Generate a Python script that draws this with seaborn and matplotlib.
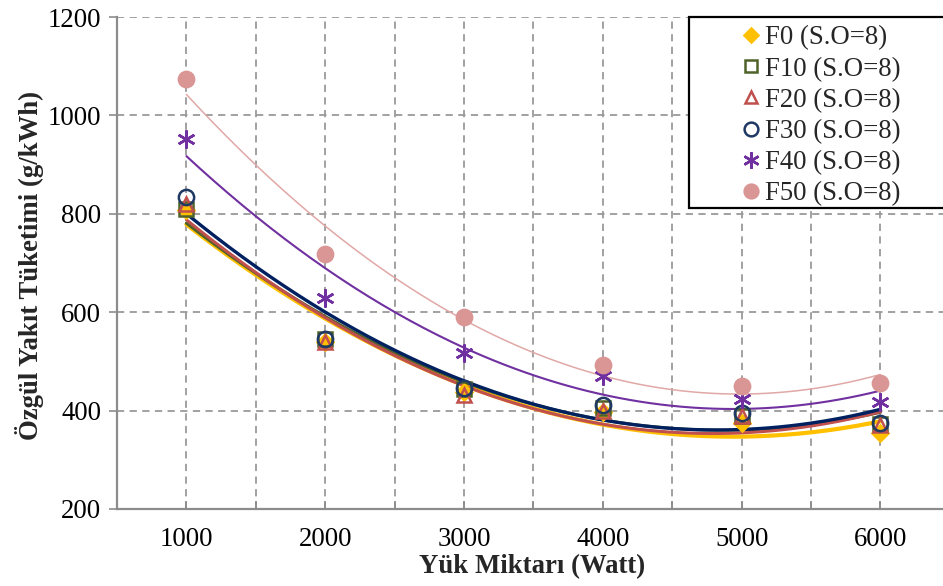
import numpy as np
import pandas as pd
import matplotlib
matplotlib.use("Agg")
import matplotlib.pyplot as plt
from matplotlib.patches import Rectangle
from matplotlib.lines import Line2D
import seaborn as sns

# Load steps (W) and specific fuel consumption (g/kWh) for each blend
loads = [1000, 2000, 3000, 4000, 5000, 6000]
f0 = [808, 540, 438, 398, 375, 355]
f10 = [810, 546, 444, 406, 390, 373]
f20 = [820, 540, 432, 400, 390, 370]
f30 = [835, 545, 445, 411, 395, 375]
f40 = [953, 629, 517, 470, 424, 418]
f50 = [1073, 718, 590, 493, 449, 457]
series_names = ["F0 (S.O=8)", "F10 (S.O=8)", "F20 (S.O=8)",
                "F30 (S.O=8)", "F40 (S.O=8)", "F50 (S.O=8)"]
x_ticks = [500, 1000, 1500, 2000, 2500, 3000, 3500, 4000, 4500, 5000, 5500, 6000]
y_ticks = [200, 400, 600, 800, 1000, 1200]

sns.set_theme(style="white")
plt.rcParams["font.family"] = ["Liberation Serif", "DejaVu Serif"]

FS = 19.3

styles = [
    # marker, marker face, marker edge, marker size, trend colour, trend width
    dict(marker="D", face="#FFC000", edge="#FFC000", ms=8, lc="#FFC000", lw=3.0),
    dict(marker="s", face="none", edge="#4F6228", ms=10, lc="#4F6228", lw=2.2),
    dict(marker="^", face="none", edge="#C0504D", ms=10, lc="#C0504D", lw=2.2),
    dict(marker="o", face="none", edge="#1F3864", ms=11, lc="#002060", lw=2.4),
    dict(marker=(6, 2, 0), face="#7030A0", edge="#7030A0", ms=13, lc="#7030A0", lw=1.5),
    dict(marker="o", face="#D99694", edge="#D99694", ms=11, lc="#E0A8A6", lw=1.1),
]

data = pd.DataFrame({"Yük": loads})
for name, vals in zip(series_names, [f0, f10, f20, f30, f40, f50]):
    data[name] = vals

fig = plt.figure(figsize=(9.43, 5.86), dpi=100)
ax = fig.add_axes([117 / 943, 1 - 509 / 586, 1 - 117 / 943, (509 - 17) / 586])

# second-order polynomial trend lines
xs = np.linspace(loads[0], loads[-1], 200)
for name, st in zip(series_names, styles):
    coef = np.polyfit(data["Yük"], data[name], 2)
    sns.lineplot(x=xs, y=np.polyval(coef, xs), ax=ax, color=st["lc"],
                 linewidth=st["lw"], zorder=3, legend=False)

# measured points
for name, st in zip(series_names, styles):
    ax.plot(data["Yük"], data[name], linestyle="none", marker=st["marker"],
            markersize=st["ms"], markerfacecolor=st["face"],
            markeredgecolor=st["edge"], markeredgewidth=1.8, zorder=4)

ax.set_xlim(500, 6451)
ax.set_ylim(200, 1200)
ax.set_xticks(x_ticks)
ax.set_xticklabels([str(v) if v % 1000 == 0 else "" for v in x_ticks])
ax.set_yticks(y_ticks)
ax.grid(True, color="#9A9A9A", linestyle=(0, (4, 3)), linewidth=1.3)
ax.set_axisbelow(True)

for side in ["top", "right"]:
    ax.spines[side].set_visible(False)
for side in ["left", "bottom"]:
    ax.spines[side].set_color("#8C8C8C")
    ax.spines[side].set_linewidth(1.6)

ax.tick_params(axis="x", direction="in", length=6, width=1.2, color="#8C8C8C",
               labelsize=FS, pad=13, labelcolor="black", bottom=True)
ax.tick_params(axis="y", direction="out", length=6, width=1.2, color="#8C8C8C",
               labelsize=FS, pad=5.5, labelcolor="black", left=True)

fig.text(532 / 943, 1 - 567 / 586, "Yük Miktarı (Watt)", ha="center", va="center",
         fontsize=FS, fontweight="bold")
fig.text(30 / 943, 1 - 265 / 586, "Özgül Yakıt Tüketimi (g/kWh)", ha="center",
         va="center", rotation=90, fontsize=FS, fontweight="bold")

# legend box
fig.patches.append(Rectangle((689 / 943, 1 - 208 / 586), 300 / 943, (208 - 17) / 586,
                             transform=fig.transFigure, facecolor="white",
                             edgecolor="black", linewidth=1.6, zorder=5))
handles = [Line2D([], [], linestyle="none", marker=st["marker"],
                  markersize=st["ms"] * 0.9, markerfacecolor=st["face"],
                  markeredgecolor=st["edge"], markeredgewidth=1.8)
           for st in styles]
leg = fig.legend(handles, series_names, loc="upper left",
                 bbox_to_anchor=(742 / 943, 1 - 25.5 / 586), frameon=False,
                 fontsize=FS, handlelength=0.7, handletextpad=0.15,
                 labelspacing=0.23, borderpad=0.0, borderaxespad=0.0)
leg.set_zorder(6)

fig.savefig("out.png", dpi=100)
